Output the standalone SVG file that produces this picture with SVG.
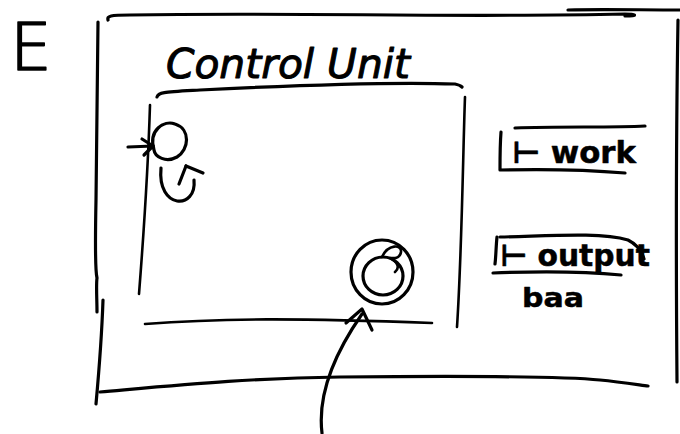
<svg xmlns="http://www.w3.org/2000/svg" width="680" height="434" viewBox="0 0 680 434">
<style>
.s{fill:none;stroke:#000;stroke-width:3.2;stroke-linecap:round;stroke-linejoin:round}
.t{fill:none;stroke:#000;stroke-width:2.6;stroke-linecap:round;stroke-linejoin:round}
.txt{font-family:"DejaVu Sans","Liberation Sans",sans-serif;fill:#000;stroke:#000;stroke-linejoin:round}
</style>
<rect width="680" height="434" fill="#fff"/>
<g id="label-E"><text class="txt" x="10" y="70" font-size="66" font-weight="300" stroke-width="1.6">E</text></g>
<g id="outer-box">
<path class="s" d="M98,22 C97,90 96,150 96,200 C95,250 95,270 97,278 C96,285 97,300 97,312"/>
<path class="s" d="M103,300 C102,330 100,360 96,404"/>
<path class="s" d="M108,20 C107,16 110,15 130,15 C300,12 450,18 625,14 C635,14 640,16 625,16"/>
<path class="s" d="M568,10 C600,9 640,10 680,10"/>
<path class="s" d="M678,20 C676,140 676,260 677,382"/>
<path class="s" d="M100,392 C180,385 250,378 340,377 C450,376 560,376 600,380 C620,382 640,385 648,386"/>
</g>
<g id="control-unit">
<text class="txt" x="166" y="78" font-size="40" font-style="italic" font-weight="300" stroke-width="1" textLength="244" lengthAdjust="spacingAndGlyphs">Control Unit</text>
<path class="s" d="M157,97 C158,92 165,92 200,90 C300,85 400,82 455,84 C460,85 462,87 462,87"/>
<path class="t" d="M150,105 C148,170 144,230 139,294"/>
<path class="t" d="M145,324 C220,318 300,318 432,323"/>
<path class="t" d="M465,97 C463,150 462,250 457,327"/>
</g>
<g id="start-state">
<path class="s" d="M154,150 C148,130 164,120 175,124 C191,129 189,150 177,157 C166,163 155,157 154,150 Z"/>
</g>
<g id="accept-state">
<ellipse class="s" cx="382" cy="272" rx="31" ry="32"/>
<ellipse class="s" cx="383" cy="276" rx="20" ry="19"/>
<path class="t" d="M382,257 C388,244 402,244 401,252 C400,260 392,258 390,258 C398,262 400,268 395,272"/>
</g>
<g id="right-labels">
<g id="label-work">
<path class="s" d="M501,132 C500,145 500,160 500,170 C540,169 590,170 625,173"/>
<path class="s" d="M515,128 C560,126 610,128 645,126"/>
<text class="txt" x="512" y="163" font-size="30" font-weight="bold" stroke-width="0.5" textLength="124" lengthAdjust="spacingAndGlyphs">⊢ work</text>
</g>
<g id="label-output">
<path class="s" d="M497,237 C496,246 496,256 495,264"/>
<path class="s" d="M500,237 C550,236 600,232 628,240 C638,245 642,252 644,259"/>
<path class="s" d="M493,273 C540,271 590,272 621,275"/>
<text class="txt" x="500" y="266" font-size="30" font-weight="bold" stroke-width="0.5" textLength="150" lengthAdjust="spacingAndGlyphs">⊢ output</text>
<text class="txt" x="522" y="307" font-size="27" font-weight="bold" stroke-width="0.5" textLength="62" lengthAdjust="spacingAndGlyphs">baa</text>
</g>
</g>
<g id="connectors">
<path class="s" d="M128,147 L153,146"/>
<path class="s" d="M142,139 L153,146 L144,155"/>
<path class="s" d="M161,168 C157,210 197,210 194,180"/>
<path class="s" d="M179,184 L186,166"/>
<path class="s" d="M186,166 L203,173"/>
<path class="s" d="M322,433 C318,400 330,360 362,314"/>
<path class="s" d="M346,323 L362,309 L372,330"/>
</g>
</svg>
